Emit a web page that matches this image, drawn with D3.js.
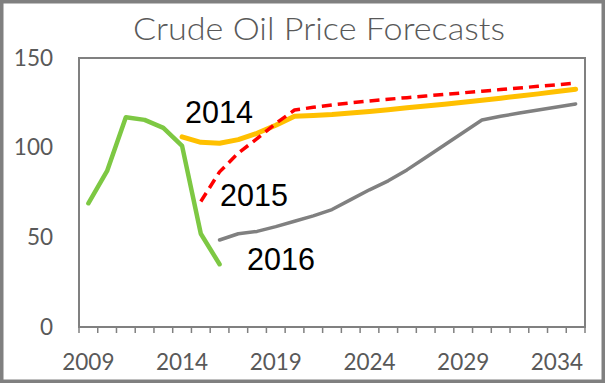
<!DOCTYPE html>
<html>
<head>
<meta charset="utf-8">
<script src="https://cdn.jsdelivr.net/npm/d3@7"></script>
<style>
  body { margin: 0; background: #fff; }
  svg { display: block; }
</style>
</head>
<body>
<svg id="chart" width="605" height="383"></svg>
<script>
// categories and series
var years = [2009, 2010, 2011, 2012, 2013, 2014, 2015, 2016, 2017, 2018, 2019, 2020, 2021, 2022,
             2023, 2024, 2025, 2026, 2027, 2028, 2029, 2030, 2031, 2032, 2033, 2034, 2035]
var yTicks = [0, 50, 100, 150]
var xLabels = [2009, 2014, 2019, 2024, 2029, 2034]

var actualYears = [2009, 2010, 2011, 2012, 2013, 2014, 2015, 2016]
var actualVals  = [69, 87, 117, 115.5, 111, 101, 52, 35]

var f2014Years = [2014, 2015, 2016, 2017, 2018, 2019, 2020, 2021, 2022, 2023, 2024, 2025,
                  2026, 2027, 2028, 2029, 2030, 2031, 2032, 2033, 2034, 2035]
var f2014Vals  = [106, 103, 102.5, 104.5, 108, 112.5, 117.5, 118, 118.5, 119.3, 120.2, 121.2,
                  122.2, 123.2, 124.2, 125.3, 126.4, 127.6, 128.8, 130, 131.3, 132.6]

var f2015Years = [2015, 2016, 2017, 2018, 2019, 2020, 2021, 2022, 2023, 2024, 2025, 2026,
                  2027, 2028, 2029, 2030, 2031, 2032, 2033, 2034, 2035]
var f2015Vals  = [70, 86.5, 97, 105, 113.5, 121, 122.5, 123.8, 125, 126, 127, 127.9,
                  128.8, 129.7, 130.6, 131.5, 132.4, 133.3, 134.2, 135.1, 136]

var f2016Years = [2016, 2017, 2018, 2019, 2020, 2021, 2022, 2023, 2024, 2025, 2026, 2027,
                  2028, 2029, 2030, 2031, 2032, 2033, 2034, 2035]
var f2016Vals  = [48.5, 52, 53.3, 56, 59, 62, 65.5, 71, 76.5, 81.5, 87.6, 94.5,
                  101.5, 108.5, 115.4, 117.5, 119.3, 121, 122.7, 124.4]

var svg = d3.select("#chart")
var W = 605, H = 383
var plot = {left: 79, right: 585, top: 58, bottom: 327}
var axisGray = "#808080"
var textGray = "#595959"

var x = d3.scaleBand().domain(years).range([plot.left, plot.right]).padding(0)
var y = d3.scaleLinear().domain([0, 150]).range([plot.bottom, plot.top])

// outer border of the picture
svg.append("rect")
  .attr("x", 1.75).attr("y", 1.75)
  .attr("width", W - 3.5).attr("height", H - 3.5)
  .attr("fill", "#fff")
  .attr("stroke", axisGray)
  .attr("stroke-width", 3.5)

// title
svg.append("text")
  .attr("x", 319).attr("y", 40)
  .attr("text-anchor", "middle")
  .attr("font-family", "Lato, 'Open Sans', sans-serif")
  .attr("font-weight", 300)
  .attr("font-size", 31)
  .attr("fill", textGray)
  .attr("textLength", 372)
  .attr("lengthAdjust", "spacingAndGlyphs")
  .text("Crude Oil Price Forecasts")

// plot frame
svg.append("rect")
  .attr("x", plot.left).attr("y", plot.top)
  .attr("width", plot.right - plot.left).attr("height", plot.bottom - plot.top)
  .attr("fill", "none")
  .attr("stroke", axisGray)
  .attr("stroke-width", 2)

// category ticks between years
var tickPos = years.map(function (d) { return x(d) }).concat([x.range()[1]])
svg.append("g").selectAll("line").data(tickPos).enter()
  .append("line")
  .attr("x1", function (d) { return d }).attr("x2", function (d) { return d })
  .attr("y1", plot.bottom).attr("y2", plot.bottom + 6)
  .attr("stroke", axisGray)
  .attr("stroke-width", 1.5)

svg.append("g").selectAll("text").data(xLabels).enter()
  .append("text")
  .attr("x", function (d) { return x(d) + x.bandwidth() / 2 })
  .attr("y", 370)
  .attr("text-anchor", "middle")
  .attr("font-family", "Lato, sans-serif")
  .attr("font-size", 22.5)
  .attr("fill", textGray)
  .text(function (d) { return d })

svg.append("g").selectAll("text").data(yTicks).enter()
  .append("text")
  .attr("x", 53)
  .attr("y", function (d) { return y(d) })
  .attr("dy", "0.34em")
  .attr("text-anchor", "end")
  .attr("font-family", "Lato, sans-serif")
  .attr("font-size", 22.5)
  .attr("fill", textGray)
  .text(function (d) { return d })

var line = d3.line()
  .x(function (d) { return x(d[0]) + x.bandwidth() / 2 })
  .y(function (d) { return y(d[1]) })

function drawSeries(yrs, vals, color, width, dash) {
  var pts = d3.zip(yrs, vals)
  var p = svg.append("path")
    .datum(pts)
    .attr("d", line)
    .attr("fill", "none")
    .attr("stroke", color)
    .attr("stroke-width", width)
    .attr("stroke-linejoin", "round")
    .attr("stroke-linecap", dash ? "butt" : "round")
  if (dash) p.attr("stroke-dasharray", dash)
}

drawSeries(f2016Years, f2016Vals, "#808080", 3.5)
drawSeries(actualYears, actualVals, "#7DC843", 4.5)
drawSeries(f2014Years, f2014Vals, "#FFC000", 5)
drawSeries(f2015Years, f2015Vals, "#FF0000", 3.5, "10,6")

// series labels
var seriesLabels = [
  {t: "2014", x: 185, y: 123},
  {t: "2015", x: 220, y: 206},
  {t: "2016", x: 247, y: 269.5}
]
svg.append("g").selectAll("text").data(seriesLabels).enter()
  .append("text")
  .attr("x", function (d) { return d.x })
  .attr("y", function (d) { return d.y })
  .attr("font-family", "'Liberation Sans', Arial, sans-serif")
  .attr("font-size", 30.5)
  .attr("fill", "#000")
  .text(function (d) { return d.t })
</script>
</body>
</html>
